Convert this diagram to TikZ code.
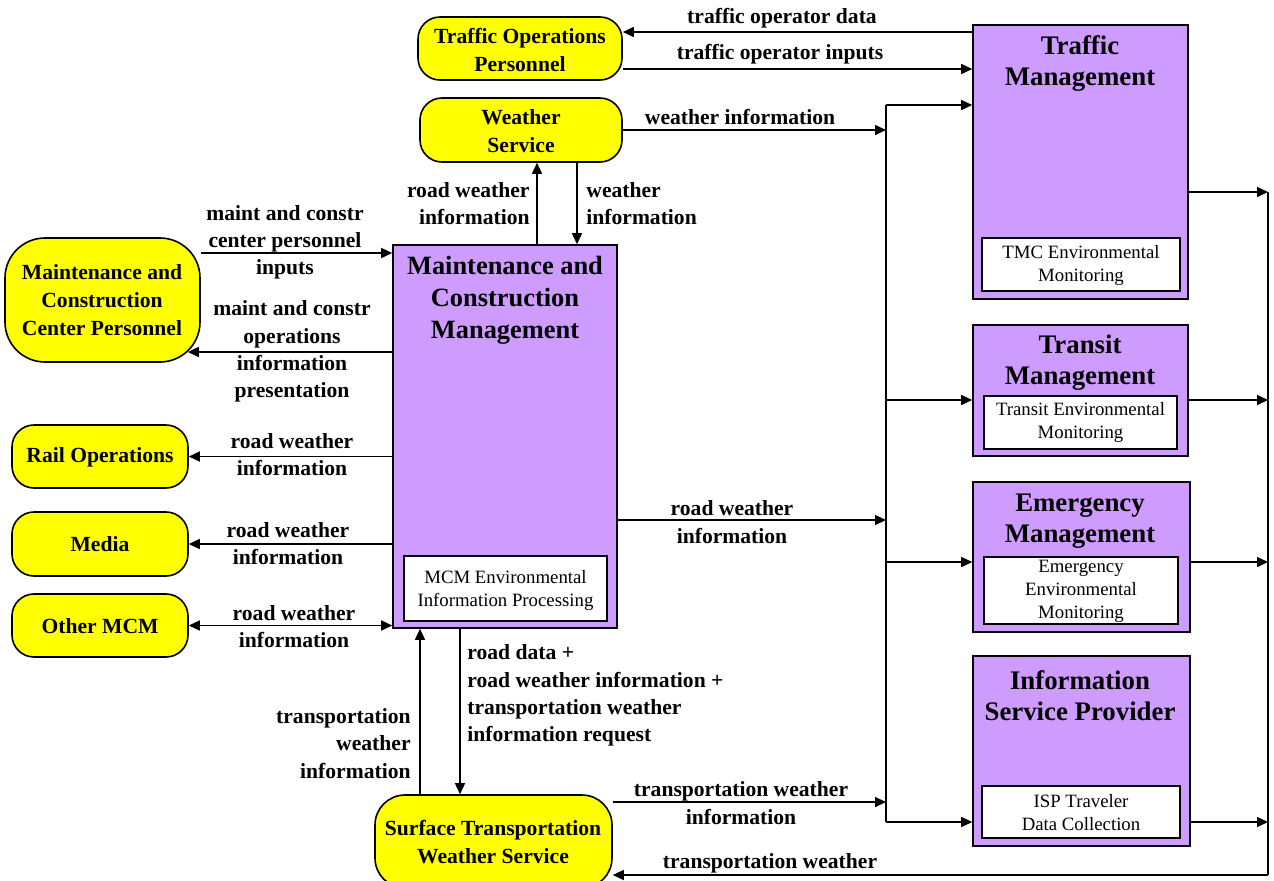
\documentclass[tikz,border=0pt]{standalone}
\usepackage{fontspec}
\setmainfont{Liberation Serif}
\usetikzlibrary{arrows.meta,fit,calc,backgrounds}
\definecolor{ylw}{RGB}{255,255,0}
\definecolor{prp}{RGB}{206,155,255}
\begin{document}
\begin{tikzpicture}[x=0.5pt,y=-0.5pt,
  ybox/.style={draw, fill=ylw, line width=0.8pt, rounded corners=11pt, inner sep=0pt},
  pbox/.style={draw, fill=prp, line width=0.8pt, inner sep=0pt},
  wbox/.style={draw, fill=white, line width=0.8pt, inner sep=0pt},
  ytxt/.style={font=\bfseries\fontsize{10.8}{14}\selectfont, align=center, inner sep=0pt},
  ttl/.style={font=\bfseries\fontsize{13.4}{15.5}\selectfont, align=center, inner sep=0pt},
  ttlm/.style={font=\bfseries\fontsize{13.2}{16}\selectfont, align=center, inner sep=0pt},
  itxt/.style={font=\fontsize{9.4}{11.5}\selectfont, align=center, inner sep=0pt},
  lbl/.style={font=\bfseries\fontsize{10.8}{13.6}\selectfont, align=center, inner sep=0pt},
  ln/.style={line width=0.75pt},
  arr/.style={ln, -{Triangle[length=5.5pt,width=5pt]}},
  darr/.style={ln, {Triangle[length=5.5pt,width=5pt]}-{Triangle[length=5.5pt,width=5pt]}},
]
\useasboundingbox (0,0) rectangle (1274,880);

% yellow terminators
\node[ybox, fit={(418,17)(622,80)}] (top) {};
\node[ytxt] (topt) at (520,50) {Traffic Operations\\Personnel};
\node[ybox, fit={(420,98)(622,162)}] (ws) {};
\node[ytxt] (wst) at (521,131) {Weather\\Service};
\node[ybox, rounded corners=20pt, fit={(5,238)(200,362)}] (mccp) {};
\node[ytxt] (mccpt) at (102,300) {Maintenance and\\Construction\\Center Personnel};
\node[ybox, fit={(12,425)(188,488)}] (rail) {};
\node[ytxt] (railt) at (100,457) {Rail Operations};
\node[ybox, fit={(12,512)(188,576)}] (media) {};
\node[ytxt] (mediat) at (100,544) {Media};
\node[ybox, fit={(12,594)(188,657)}] (omcm) {};
\node[ytxt] (omcmt) at (100,626) {Other MCM};
\node[ybox, rounded corners=15pt, fit={(375,795)(612,888)}] (stws) {};
\node[ytxt] (stwst) at (493,842) {Surface Transportation\\Weather Service};

% purple subsystems
\node[pbox, fit={(393,245)(617,628)}] (mcm) {};
\node[ttlm] (mcmt) at (505,300) {Maintenance and\\Construction\\Management};
\node[wbox, fit={(404,556)(607,621)}] (mcmi) {};
\node[itxt] (mcmit) at (505.5,590.5) {MCM Environmental\\Information Processing};

\node[pbox, fit={(973,25)(1188,299)}] (tm) {};
\node[ttl] (tmt) at (1080,64) {Traffic\\Management};
\node[wbox, fit={(982,238)(1180,291)}] (tmi) {};
\node[itxt] (tmit) at (1081,265) {TMC Environmental\\Monitoring};

\node[pbox, fit={(973,325)(1188,456)}] (trm) {};
\node[ttl] (trmt) at (1080,363) {Transit\\Management};
\node[wbox, fit={(984,396)(1177,449)}] (trmi) {};
\node[itxt] (trmit) at (1080.5,422) {Transit Environmental\\Monitoring};

\node[pbox, fit={(973,482)(1190,632)}] (em) {};
\node[ttl] (emt) at (1080,521.5) {Emergency\\Management};
\node[wbox, fit={(984,557)(1178,624)}] (emi) {};
\node[itxt] (emit) at (1081,591) {Emergency\\Environmental\\Monitoring};

\node[pbox, fit={(973,656)(1190,846)}] (isp) {};
\node[ttl] (ispt) at (1080,695.5) {Information\\Service Provider};
\node[wbox, fit={(982,786)(1180,838)}] (ispi) {};
\node[itxt] (ispit) at (1081,813) {ISP Traveler\\Data Collection};

% bus coordinates
\coordinate (bus0) at (886,105);
\coordinate (busA) at (886,130);
\coordinate (busB) at (886,400);
\coordinate (busC) at (886,520);
\coordinate (busD) at (886,562);
\coordinate (busE) at (886,802);
\coordinate (busF) at (886,822);
\coordinate (rb1) at (1268,192);
\coordinate (rb2) at (1268,400);
\coordinate (rb3) at (1268,562);
\coordinate (rb4) at (1268,822);
\coordinate (rb5) at (1268,875);

\begin{pgfonlayer}{background}
\draw[arr] (tm.west |- 0,32) -- (top.east |- 0,32);
\draw[arr] (top.east |- 0,69) -- (tm.west |- 0,69);
\draw[arr] (ws.east |- busA) -- (busA);
\draw[ln] (bus0) -- (busF);
\draw[arr] (bus0) -- (tm.west |- bus0);
\draw[arr] (busB) -- (trm.west |- busB);
\draw[arr] (busD) -- (em.west |- busD);
\draw[arr] (busF) -- (isp.west |- busF);
\draw[arr] (mcm.east |- busC) -- (busC);
\draw[arr] (stws.east |- busE) -- (busE);

\draw[arr] (mcm.north -| 537,0) -- (ws.south -| 537,0);
\draw[arr] (ws.south -| 577,0) -- (mcm.north -| 577,0);

\draw[arr] (mccp.east |- 0,253) -- (mcm.west |- 0,253);
\draw[arr] (mcm.west |- 0,352) -- ($(mccp.east |- 0,352)+(-13,0)$);
\draw[arr] (mcm.west |- rail) -- (rail.east);
\draw[arr] (mcm.west |- media) -- (media.east);
\draw[darr] (omcm.east) -- (mcm.west |- omcm);

\draw[arr] (stws.north -| 420,0) -- (mcm.south -| 420,0);
\draw[arr] (mcm.south -| 460,0) -- (stws.north -| 460,0);

\draw[arr] (tm.east |- rb1) -- (rb1);
\draw[arr] (trm.east |- rb2) -- (rb2);
\draw[arr] (em.east |- rb3) -- (rb3);
\draw[arr] (isp.east |- rb4) -- (rb4);
\draw[ln] (rb1) -- (rb5);
\draw[arr] (rb5) -- (stws.east |- rb5);
\end{pgfonlayer}

% labels
\node[lbl] (l1) at (782,18) {traffic operator data};
\node[lbl] (l2) at (780,54) {traffic operator inputs};
\node[lbl] (l3) at (740,117) {weather information};
\node[lbl, align=right, anchor=east] (l4) at (530,203.5) {road weather\\information};
\node[lbl, align=left, anchor=west] (l5) at (586,203.5) {weather\\information};
\node[lbl] (l6) at (285,242.5) {maint and constr\\center personnel\\inputs};
\node[lbl] (l7) at (292,351.5) {maint and constr\\operations\\information\\presentation};
\node[lbl] (l8) at (292,454.5) {road weather\\information};
\node[lbl] (l9) at (288,543.5) {road weather\\information};
\node[lbl] (l10) at (294,626.5) {road weather\\information};
\node[lbl] (l11) at (732,522) {road weather\\information};
\node[lbl, align=right, anchor=east] (l12) at (411,743.5) {transportation\\weather\\information};
\node[lbl, align=left, anchor=west] (l13) at (467,695.5) {road data +\\road weather information +\\transportation weather\\information request};
\node[lbl] (l14) at (741,803) {transportation weather\\information};
\node[lbl] (l15) at (770,863) {transportation weather};
\end{tikzpicture}
\end{document}
